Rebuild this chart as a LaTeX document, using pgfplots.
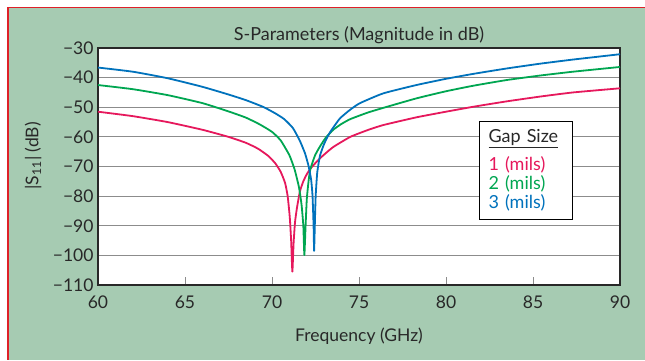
\documentclass[border=0pt]{standalone}
\usepackage{pgfplots}
\pgfplotsset{compat=1.18}
\usepackage{fontspec}
\setmainfont{Lato}
\definecolor{cred}{RGB}{230,24,92}
\definecolor{cgreen}{RGB}{0,166,81}
\definecolor{cblue}{RGB}{0,114,188}
\definecolor{bggreen}{RGB}{166,203,178}
\definecolor{bordred}{RGB}{222,32,40}
\definecolor{txt}{RGB}{40,40,40}
\begin{document}
\begin{tikzpicture}
\useasboundingbox (-98pt,-75pt) rectangle (547pt,285pt);
\fill[white] (-98pt,-75pt) rectangle (547pt,285pt);
\fill[bggreen] (-90pt,-75pt) rectangle (547pt,277pt);
\fill[bordred] (-91pt,-75pt) rectangle (-89.4pt,278.2pt);
\fill[bordred] (-91pt,276.6pt) rectangle (547pt,278.2pt);
\begin{axis}[
  at={(0,0)}, anchor=south west,
  scale only axis, width=522pt, height=237pt,
  xmin=60, xmax=90, ymin=-110, ymax=-30,
  xtick={60,65,70,75,80,85,90},
  ytick={-110,-100,-90,-80,-70,-60,-50,-40,-30},
  yticklabels={−110,−100,−90,−80,−70,−60,−50,−40,−30},
  xticklabels={60,65,70,75,80,85,90},
  axis background/.style={fill=white},
  axis line style={draw=txt, line width=1.3pt},
  ymajorgrids, grid style={draw=black!45, line width=1.1pt},
  ytick style={draw=none},
  xtick pos=left, tick align=inside, major tick length=8pt,
  xtick style={draw=black!45, line width=0.9pt},
  tick label style={font=\fontsize{17.5}{19}\selectfont, text=txt},
  xticklabel style={yshift=-7pt},
  yticklabel style={xshift=-1pt},
  title={S-Parameters (Magnitude in dB)},
  title style={font=\fontsize{18}{20}\selectfont, text=txt, at={(0.5,1)}, anchor=south, yshift=-5pt},
  xlabel={Frequency (GHz)},
  xlabel style={font=\fontsize{17.5}{19}\selectfont, text=txt, at={(axis description cs:0.5,0)}, anchor=center, yshift=-51pt},
  ylabel={|S\textsubscript{11}| (dB)},
  ylabel style={font=\fontsize{17.5}{19}\selectfont, text=txt, at={(axis description cs:-0.1245,0.545)}, anchor=center},
  every axis plot/.append style={line width=1.8pt, line join=round, smooth, tension=0.3},
  clip=true,
]
\addplot[cred] coordinates {
(60,-51.5) (62,-53.0) (64,-55.0) (66,-57.6) (67.5,-60.0) (68.5,-62.0)
(69.2,-64.0) (69.8,-66.5) (70.2,-69.0) (70.5,-71.8) (70.75,-75.5) (70.9,-80)
(71.02,-87) (71.1,-95) (71.17,-105.5) (71.24,-96) (71.32,-89) (71.42,-84.5)
(71.6,-78.5) (71.8,-75.0) (72.0,-72.6) (72.2,-70.8) (72.5,-68.8) (72.8,-67.0)
(73.5,-63.5) (74.5,-60.0) (75.5,-57.7) (76.4,-56.0) (78.3,-53.4) (80,-51.5)
(81.6,-49.8) (83.5,-48.0) (85.4,-46.4) (87.3,-45.0) (90,-43.6)
};
\addplot[cgreen] coordinates {
(60,-42.5) (62,-43.9) (64,-45.9) (66,-48.6) (67.5,-51.4) (68.5,-53.5)
(69.3,-55.8) (70.0,-58.3) (70.5,-61.2) (71.0,-66.2) (71.3,-71) (71.55,-77)
(71.7,-83) (71.8,-90) (71.86,-99.9) (71.93,-90) (72.0,-81) (72.1,-75)
(72.2,-71) (72.47,-66.3) (72.76,-63.2) (73.1,-60.2) (73.52,-57.6) (74.0,-55.6)
(74.5,-54.0) (75.5,-51.8) (76.4,-50.2) (78.3,-47.0) (80,-44.6) (81.6,-42.7)
(83.5,-40.8) (85.4,-39.3) (87.3,-38.0) (90,-36.4)
};
\addplot[cblue] coordinates {
(60,-36.6) (62,-38.0) (64,-40.2) (66,-43.1) (67.5,-45.7) (68.5,-47.6)
(69.5,-49.9) (70.2,-52.1) (70.7,-54.0) (71.2,-57.0) (71.6,-61.3) (71.9,-65.6)
(72.1,-69.8) (72.25,-74.5) (72.33,-80) (72.39,-90) (72.42,-98.5) (72.46,-90)
(72.51,-80) (72.6,-72) (72.76,-66.3) (73.0,-62.3) (73.33,-58.5) (73.9,-53.8)
(74.5,-50.8) (75.06,-48.6) (76.4,-45.3) (78.3,-42.5) (80,-40.4) (81.6,-38.7)
(83.5,-36.9) (85.4,-35.3) (87.3,-33.9) (90,-32.1)
};
\node[draw=black, line width=1.1pt, fill=white, anchor=north west, align=left,
  text width=75pt, minimum width=93pt, minimum height=98pt, inner xsep=9pt, inner ysep=8pt, font=\fontsize{18}{19.3}\selectfont]
  at (rel axis cs:0.730,0.692)
  {\textcolor{txt}{\underline{Gap Size}}\\[8pt]\textcolor{cred}{1 (mils)}\\\textcolor{cgreen}{2 (mils)}\\\textcolor{cblue}{3 (mils)}};
\end{axis}
\end{tikzpicture}
\end{document}
